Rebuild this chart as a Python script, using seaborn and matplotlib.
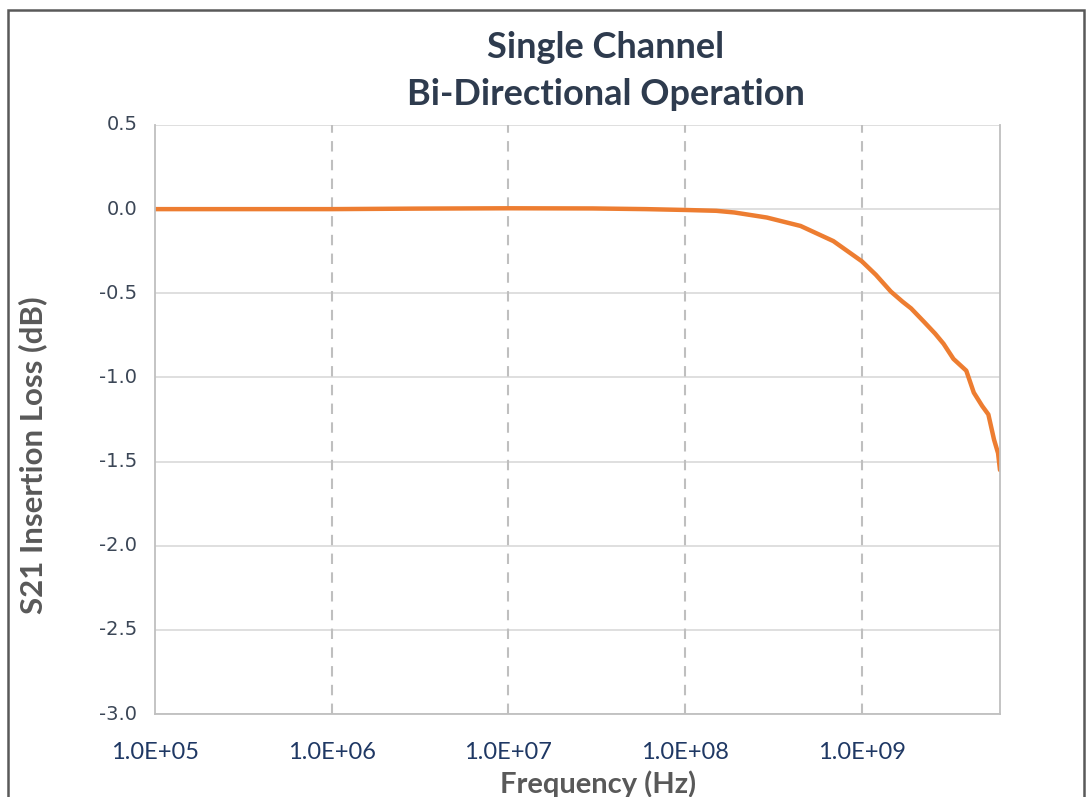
import matplotlib
matplotlib.use("Agg")
import matplotlib.pyplot as plt
import seaborn as sns
from matplotlib.patches import Rectangle
from matplotlib.ticker import FuncFormatter, FixedLocator, NullLocator, NullFormatter

# values
freq_hz = [1e5, 3e5, 1e6, 3e6, 1e7, 3e7, 6e7, 1e8, 1.5e8, 1.9e8, 2.9e8,
           4.5e8, 6.9e8, 1.0e9, 1.2e9, 1.46e9, 1.7e9, 1.9e9, 2.25e9, 2.6e9,
           2.9e9, 3.3e9, 3.9e9, 4.3e9, 4.8e9, 5.2e9, 5.6e9, 5.9e9, 6.05e9]
loss_db = [0.0, 0.0, 0.0, 0.003, 0.005, 0.004, 0.0, -0.005, -0.01, -0.02, -0.05,
           -0.10, -0.19, -0.31, -0.39, -0.49, -0.55, -0.59, -0.67, -0.74,
           -0.80, -0.89, -0.96, -1.09, -1.17, -1.22, -1.37, -1.45, -1.55]
x_ticks = [1e5, 1e6, 1e7, 1e8, 1e9]
y_ticks = [0.5, 0.0, -0.5, -1.0, -1.5, -2.0, -2.5, -3.0]

sns.set_style("white")
plt.rcParams["font.family"] = ["Lato", "DejaVu Sans"]

fig = plt.figure(figsize=(10.88, 7.97), dpi=100)
ax = fig.add_axes([0.1425, 0.1041, 0.7766, 0.7391])

sns.lineplot(x=freq_hz, y=loss_db, ax=ax, color="#ED7D31", linewidth=3.2)

ax.set_xscale("log")
ax.set_xlim(1e5, 6.05e9)
ax.set_ylim(-3.0, 0.5)

ax.xaxis.set_major_locator(FixedLocator(x_ticks))
ax.xaxis.set_minor_locator(NullLocator())
ax.xaxis.set_major_formatter(FuncFormatter(lambda v, p: f"{v:.1E}"))
ax.yaxis.set_major_locator(FixedLocator(y_ticks))
ax.yaxis.set_major_formatter(NullFormatter())

# gridlines: solid horizontal, dashed vertical
for y in y_ticks:
    ax.axhline(y, color="#d9d9d9", linewidth=1.2, zorder=0)
    ax.text(-0.021, y, f"{y:.1f}", transform=ax.get_yaxis_transform(),
            ha="right", va="center", fontsize=14, color="#3b4656",
            fontfamily="DejaVu Sans")
for x in x_ticks[1:]:
    ax.axvline(x, color="#bfbfbf", linewidth=1.5, linestyle=(0, (5, 4)), zorder=0)

for side in ["left", "bottom", "right", "top"]:
    ax.spines[side].set_color("#bfbfbf")
    ax.spines[side].set_linewidth(1.3)
ax.spines["top"].set_visible(False)

ax.tick_params(axis="both", length=0)
ax.tick_params(axis="x", pad=20, labelsize=17, labelcolor="#1f3864")

ax.set_xlabel("Frequency (Hz)", fontsize=21, fontweight="bold", color="#595959")
ax.xaxis.set_label_coords(0.524, -0.095)
ax.set_ylabel("S21 Insertion Loss (dB)", fontsize=22.5, fontweight="bold", color="#595959")
ax.yaxis.set_label_coords(-0.128, 0.44)

fig.text(0.557, 0.941, "Single Channel", ha="center", va="center",
         fontsize=26, fontweight="bold", color="#2e3b4e")
fig.text(0.557, 0.881, "Bi-Directional Operation", ha="center", va="center",
         fontsize=26, fontweight="bold", color="#2e3b4e")

# outer chart frame
fig.patches.append(Rectangle((8 / 1088, -0.05), 1076 / 1088, 1.05 - 10 / 797,
                             transform=fig.transFigure, fill=False,
                             edgecolor="#595959", linewidth=1.8))

fig.savefig("out.png", dpi=100)
